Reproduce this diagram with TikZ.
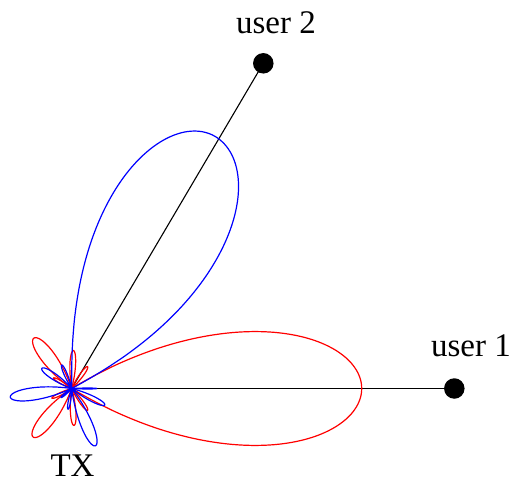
\documentclass[tikz,border=0pt]{standalone}
\usepackage{fontspec}
\setmainfont{Liberation Serif}
\newcommand\lobepetal[4]{%
  \draw[#1, shift={(tx)}] plot[domain=-#4:#4, samples=41, smooth] ({#2+\x}:{#3*cos(90*\x/#4)});}
\begin{document}
\begin{tikzpicture}[x=1pt,y=1pt,
  lbl/.style={font=\fontsize{33}{40}\selectfont, inner sep=0pt, anchor=base},
  userdot/.style={circle, fill=black, minimum size=20.5pt, inner sep=0pt},
  link/.style={black, line width=1.1pt},
  redlobe/.style={red, line width=1.2pt, line join=round},
  bluelobe/.style={blue, line width=1.2pt, line join=round}]
\useasboundingbox (0,0) rectangle (512,483);
\coordinate (tx) at (71.7,94.5);
\node[userdot] (u1) at (454.3,94.5) {};
\node[userdot] (u2) at (263.3,419.7) {};
\node[lbl] (l1) at (471,126.3) {user 1};
\node[lbl] (l2) at (276,449.7) {user 2};
\node[lbl] (ltx) at (72.5,6.5) {TX};
\draw[link] (tx) -- (u1.center);
\draw[link] (tx) -- (u2.center);
% red pattern
\draw[redlobe, shift={(tx)}] plot[domain=-31:31, samples=121, smooth] (\x:{290*cos(90*\x/31)^0.93});
\lobepetal{redlobe}{127}{63}{18}
\lobepetal{redlobe}{231.5}{62}{18}
\lobepetal{redlobe}{87.5}{38}{12}
\lobepetal{redlobe}{273.5}{37}{12}
\lobepetal{redlobe}{54}{27}{11}
\lobepetal{redlobe}{-54}{27}{11}
\lobepetal{redlobe}{150}{21}{10}
\lobepetal{redlobe}{206}{22}{10}
% blue pattern
\draw[bluelobe, shift={(tx)}] (0,0)
  -- plot[domain=-31.98:0, samples=80, smooth] ({60.5+\x}:{290*(cos(90*\x/32))^0.8})
  -- plot[domain=0:29.98, samples=80, smooth] ({60.5+\x}:{290*(cos(90*\x/30))^0.75})
  -- cycle;
\lobepetal{bluelobe}{188}{62}{16}
\lobepetal{bluelobe}{-67.5}{62}{15}
\lobepetal{bluelobe}{146}{36}{14}
\lobepetal{bluelobe}{-26.5}{37}{12}
\lobepetal{bluelobe}{113}{25.5}{10}
\lobepetal{bluelobe}{260}{21}{9}
\lobepetal{bluelobe}{0}{25}{3}
\lobepetal{bluelobe}{220}{14}{9}
\end{tikzpicture}
\end{document}
